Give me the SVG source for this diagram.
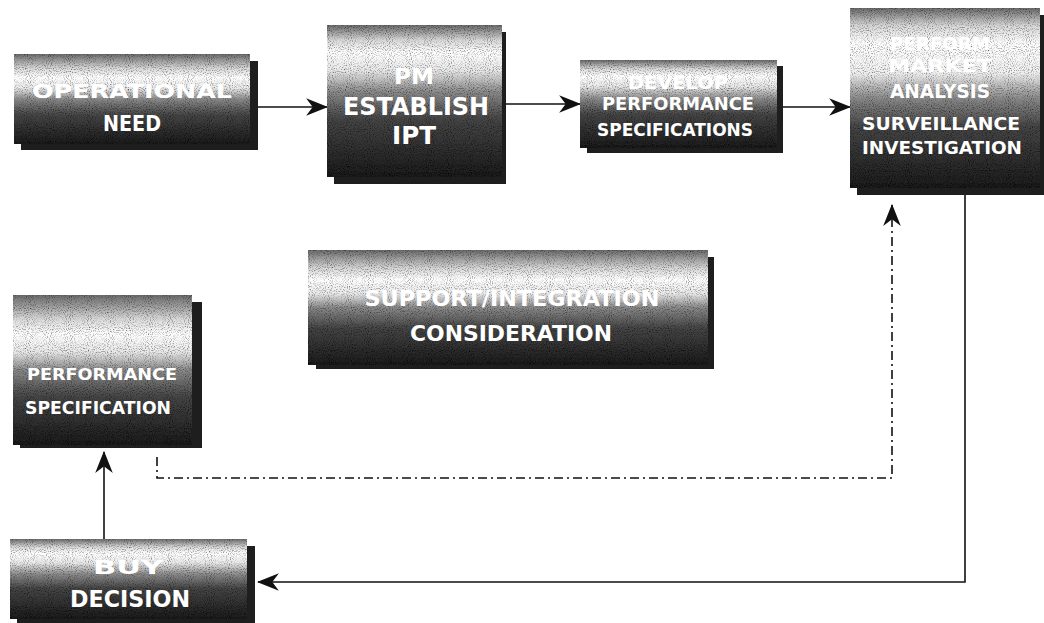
<svg xmlns="http://www.w3.org/2000/svg" width="1044" height="623" viewBox="0 0 1044 623">
<style>
.sh{fill:#1e1e1e}
.bx{fill:url(#g)}
.bx2{fill:url(#g2)}
.bx3{fill:url(#g3)}
.t{font-family:"DejaVu Sans","Liberation Sans",Arial,sans-serif;font-weight:bold;fill:#fff;text-anchor:middle}
.c{fill:none;stroke:#111;stroke-width:1.6}
.dd{stroke-dasharray:9 4 2 4}
</style>
<defs>
<linearGradient id="g" x1="0" y1="0" x2="0" y2="1">
<stop offset="0" stop-color="#6a6a6a"/>
<stop offset="0.16" stop-color="#d8d8d8"/>
<stop offset="0.26" stop-color="#ffffff"/>
<stop offset="0.38" stop-color="#e8e8e8"/>
<stop offset="0.5" stop-color="#8a8a8a"/>
<stop offset="0.68" stop-color="#454545"/>
<stop offset="1" stop-color="#1c1c1c"/>
</linearGradient>
<linearGradient id="g2" x1="0" y1="0" x2="0" y2="1">
<stop offset="0" stop-color="#6a6a6a"/>
<stop offset="0.1" stop-color="#d8d8d8"/>
<stop offset="0.18" stop-color="#ffffff"/>
<stop offset="0.3" stop-color="#e8e8e8"/>
<stop offset="0.44" stop-color="#8a8a8a"/>
<stop offset="0.62" stop-color="#454545"/>
<stop offset="1" stop-color="#1c1c1c"/>
</linearGradient>
<linearGradient id="g3" x1="0" y1="0" x2="0" y2="1">
<stop offset="0" stop-color="#6a6a6a"/>
<stop offset="0.1" stop-color="#d8d8d8"/>
<stop offset="0.2" stop-color="#ffffff"/>
<stop offset="0.36" stop-color="#f0f0f0"/>
<stop offset="0.5" stop-color="#8a8a8a"/>
<stop offset="0.66" stop-color="#454545"/>
<stop offset="1" stop-color="#1c1c1c"/>
</linearGradient>
<filter id="n" x="0" y="0" width="1" height="1">
<feTurbulence type="fractalNoise" baseFrequency="0.95" numOctaves="1" seed="3" result="t"/>
<feColorMatrix in="t" type="matrix" values="0 0 0 0 0  0 0 0 0 0  0 0 0 0 0  0 0 0 -2.4 1.25" result="a"/>
<feComposite in="a" in2="SourceGraphic" operator="in" result="m"/>
<feMerge><feMergeNode in="SourceGraphic"/><feMergeNode in="m"/></feMerge>
</filter>
<marker id="ah" viewBox="0 0 20 16" refX="19" refY="8" markerWidth="22" markerHeight="18" markerUnits="userSpaceOnUse" orient="auto">
<path d="M0,0 L20,8 L0,16 L6,8 Z" fill="#111"/>
</marker>
</defs>

<g id="connectors">
<line class="c" x1="258" y1="107" x2="327" y2="107" marker-end="url(#ah)"/>
<line class="c" x1="505" y1="104" x2="580" y2="104" marker-end="url(#ah)"/>
<line class="c" x1="783" y1="107" x2="850" y2="107" marker-end="url(#ah)"/>
<polyline class="c" points="965,195 965,582 258,582" marker-end="url(#ah)"/>
<line class="c" x1="104" y1="540" x2="104" y2="452" marker-end="url(#ah)"/>
<polyline class="c dd" points="157,457 157,478 892,478 892,205" marker-end="url(#ah)"/>
</g>

<g id="operational-need">
<rect class="sh" x="21" y="61" width="237" height="89"/>
<rect class="bx" x="14" y="54" width="236" height="90" filter="url(#n)"/>
<text class="t" x="132" y="98" font-size="20" textLength="200" lengthAdjust="spacingAndGlyphs">OPERATIONAL</text>
<text class="t" x="132" y="131" font-size="22" textLength="58" lengthAdjust="spacingAndGlyphs">NEED</text>
</g>

<g id="pm-establish-ipt">
<rect class="sh" x="334" y="32" width="172" height="152"/>
<rect class="bx2" x="327" y="25" width="175" height="152" filter="url(#n)"/>
<text class="t" x="414" y="84" font-size="22" textLength="40" lengthAdjust="spacingAndGlyphs">PM</text>
<text class="t" x="416" y="115" font-size="24" textLength="146" lengthAdjust="spacingAndGlyphs">ESTABLISH</text>
<text class="t" x="414" y="144" font-size="24" textLength="44" lengthAdjust="spacingAndGlyphs">IPT</text>
</g>

<g id="develop-performance-specifications">
<rect class="sh" x="587" y="66" width="196" height="87"/>
<rect class="bx2" x="580" y="60" width="197" height="88" filter="url(#n)"/>
<text class="t" x="678" y="89" font-size="17" textLength="100" lengthAdjust="spacingAndGlyphs">DEVELOP</text>
<text class="t" x="678" y="110" font-size="17" textLength="152" lengthAdjust="spacingAndGlyphs">PERFORMANCE</text>
<text class="t" x="675" y="136" font-size="18" textLength="156" lengthAdjust="spacingAndGlyphs">SPECIFICATIONS</text>
</g>

<g id="perform-market-analysis">
<rect class="sh" x="857" y="15" width="187" height="180"/>
<rect class="bx3" x="850" y="8" width="190" height="180" filter="url(#n)"/>
<text class="t" x="940" y="50" font-size="18" textLength="100" lengthAdjust="spacingAndGlyphs">PERFORM</text>
<text class="t" x="940" y="72" font-size="18" textLength="104" lengthAdjust="spacingAndGlyphs">MARKET</text>
<text class="t" x="940" y="98" font-size="19" textLength="100" lengthAdjust="spacingAndGlyphs">ANALYSIS</text>
<text class="t" x="941" y="130" font-size="18" textLength="158" lengthAdjust="spacingAndGlyphs">SURVEILLANCE</text>
<text class="t" x="942" y="154" font-size="18" textLength="160" lengthAdjust="spacingAndGlyphs">INVESTIGATION</text>
</g>

<g id="support-integration-consideration">
<rect class="sh" x="316" y="257" width="398" height="112"/>
<rect class="bx" x="308" y="250" width="400" height="115" filter="url(#n)"/>
<text class="t" x="512" y="306" font-size="22" textLength="295" lengthAdjust="spacingAndGlyphs">SUPPORT/INTEGRATION</text>
<text class="t" x="511" y="341" font-size="22" textLength="202" lengthAdjust="spacingAndGlyphs">CONSIDERATION</text>
</g>

<g id="performance-specification">
<rect class="sh" x="20" y="302" width="182" height="146"/>
<rect class="bx" x="13" y="295" width="179" height="150" filter="url(#n)"/>
<text class="t" x="102" y="380" font-size="16" textLength="150" lengthAdjust="spacingAndGlyphs">PERFORMANCE</text>
<text class="t" x="98" y="414" font-size="17" textLength="146" lengthAdjust="spacingAndGlyphs">SPECIFICATION</text>
</g>

<g id="decision">
<rect class="sh" x="17" y="546" width="238" height="77"/>
<rect class="bx2" x="10" y="539" width="237" height="80" filter="url(#n)"/>
<text class="t" x="128" y="574" font-size="19" textLength="70" lengthAdjust="spacingAndGlyphs">BUY</text>
<text class="t" x="130" y="607" font-size="23" textLength="120" lengthAdjust="spacingAndGlyphs">DECISION</text>
</g>
</svg>
